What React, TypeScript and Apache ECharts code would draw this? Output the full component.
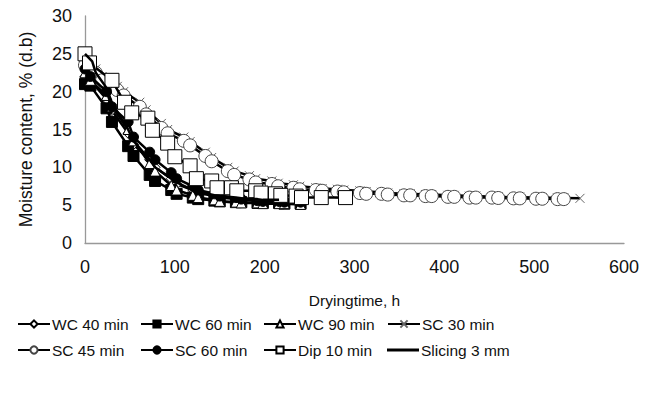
import React, { useEffect, useRef } from "react";
import * as echarts from "echarts";

const seriesNames = ["WC 40 min", "WC 60 min", "WC 90 min", "SC 30 min", "SC 45 min", "SC 60 min", "Dip 10 min", "Slicing 3 mm"];

const xTicks = [0, 100, 200, 300, 400, 500, 600];
const yTicks = [0, 5, 10, 15, 20, 25, 30];

const wc40X = [0, 6, 24, 30, 48, 54, 72, 78, 96, 102, 120, 126, 144, 150, 168, 174, 192, 198, 216, 222];
const wc40Y = [22, 21.5, 19, 17.5, 14.5, 13, 11, 10, 8.5, 7.8, 7, 6.6, 6.2, 6, 5.8, 5.7, 5.6, 5.6, 5.5, 5.5];

const wc60X = [0, 6, 24, 30, 48, 54, 72, 78, 96, 102, 120, 126, 144, 150, 168, 174, 192, 198, 216, 222, 240];
const wc60Y = [21, 20.8, 17.8, 16, 12.8, 11.5, 9, 8.2, 7, 6.5, 6, 5.8, 5.6, 5.5, 5.4, 5.4, 5.3, 5.3, 5.3, 5.2, 5.2];

const wc90X = [0, 6, 24, 30, 48, 54, 72, 78, 96, 102, 120, 126, 144, 150, 168, 174, 192, 198, 216, 222, 240];
const wc90Y = [22.5, 21.5, 19.5, 18, 15, 13.5, 10.5, 9.5, 7.6, 7, 6.3, 6, 5.7, 5.5, 5.4, 5.3, 5.3, 5.2, 5.2, 5.2, 5.1];

const scTimes = [0, 5, 12, 19, 36, 43, 61, 68, 85, 92, 110, 117, 134, 141, 159, 166, 183, 190, 208, 215, 232, 239, 257, 264, 281, 288, 306, 313, 330, 337, 355, 362, 379, 386, 404, 411, 428, 435, 453, 460, 477, 484, 502, 509, 526, 533, 551];
const sc30Y = [24, 23.5, 23, 22, 20.7, 20, 18.6, 17.6, 15.8, 15, 14, 13.4, 12, 11.3, 10, 9.5, 8.9, 8.5, 8.2, 7.9, 7.7, 7.5, 7.3, 7.2, 7.1, 7, 6.9, 6.8, 6.7, 6.6, 6.5, 6.5, 6.4, 6.4, 6.3, 6.3, 6.2, 6.2, 6.1, 6.1, 6.05, 6.05, 6, 6, 5.95, 5.95, 5.9];
const sc45X = [0, 5, 12, 19, 36, 43, 61, 68, 85, 92, 110, 117, 134, 141, 159, 166, 183, 190, 208, 215, 232, 239, 257, 264, 281, 288, 306, 313, 330, 337, 355, 362, 379, 386, 404, 411, 428, 435, 453, 460, 477, 484, 502, 509, 526, 533];
const sc45Y = [23.5, 23, 22.5, 21.5, 20.2, 19.5, 18, 17, 15.2, 14.5, 13.5, 12.9, 11.5, 10.8, 9.5, 9, 8.4, 8, 7.8, 7.5, 7.3, 7.1, 7, 6.9, 6.8, 6.7, 6.6, 6.5, 6.5, 6.4, 6.3, 6.3, 6.2, 6.2, 6.1, 6.1, 6, 6, 6, 5.95, 5.9, 5.9, 5.85, 5.85, 5.8, 5.8];

const sc60X = [0, 6, 24, 30, 48, 54, 72, 78, 96, 102, 120, 126, 144, 150, 168, 174, 192, 198, 216, 222, 240];
const sc60Y = [23, 22, 20, 18, 16, 14, 12, 11, 9.3, 8.5, 7.5, 7, 6.5, 6.2, 6, 5.8, 5.6, 5.5, 5.5, 5.4, 5.4];

const dipX = [0, 5, 30, 44, 52, 70, 75, 92, 100, 117, 124, 141, 147, 163, 169, 190, 196, 212, 218, 235, 241, 263, 290];
const dipY = [25, 23.8, 21.5, 18.6, 17.2, 16.5, 14.9, 13.2, 11.4, 10.2, 8.5, 8.2, 7.3, 7.3, 6.9, 6.9, 6.6, 6.5, 6.3, 6.2, 6.0, 6.0, 6.0];

const sliceX = [0, 8, 12, 24, 30, 48, 54, 72, 78, 96, 102, 120, 126, 144, 150, 168, 174, 192, 198, 216];
const sliceY = [25, 24, 22.5, 20.5, 18.5, 15, 13.5, 11, 10, 8.5, 8, 7, 6.8, 6.3, 6.2, 6, 5.9, 5.8, 5.7, 5.7];

const pair = (xs: number[], ys: number[]) => xs.map((x, i) => [x, ys[i]]);

const FONT = "'Liberation Sans', Arial, sans-serif";

export default function App() {
  const ref = useRef<HTMLDivElement>(null);
  useEffect(() => {
    if (!ref.current) return;
    const chart = echarts.init(ref.current, undefined, { renderer: "svg" });
    const line = { color: "#000", width: 2.5 };
    const mk = (name: string, xs: number[], ys: number[], symbol: string, size: number, itemStyle: any, z: number) => ({
      name,
      type: "line",
      data: pair(xs, ys),
      symbol,
      symbolSize: size,
      showSymbol: symbol !== "none",
      lineStyle: line,
      itemStyle,
      z,
      emphasis: { disabled: true },
    });
    const legendBase = {
      orient: "vertical",
      top: 311,
      itemWidth: 32,
      itemHeight: 9,
      itemGap: 10,
      textStyle: { fontFamily: FONT, fontSize: 15.5, color: "#111", padding: [0, 0, 0, -3] },
      selectedMode: false,
    };
    chart.setOption({
      animation: false,
      backgroundColor: "#fff",
      grid: { left: 85, right: 26, top: 16, bottom: 158 },
      xAxis: {
        type: "value",
        min: 0,
        max: 600,
        interval: 100,
        name: "Dryingtime, h",
        nameLocation: "middle",
        nameGap: 49,
        nameTextStyle: { fontFamily: FONT, fontSize: 15.5, color: "#111" },
        axisLine: { lineStyle: { color: "#999", width: 1.3 } },
        axisTick: { show: false },
        splitLine: { show: false },
        axisLabel: { fontFamily: FONT, fontSize: 18, color: "#111", margin: 15, formatter: (v: number) => (xTicks.includes(v) ? String(v) : "") },
      },
      yAxis: {
        type: "value",
        min: 0,
        max: 30,
        interval: 5,
        name: "Moisture content, % (d.b)",
        nameLocation: "middle",
        nameRotate: 90,
        nameGap: 50,
        nameTextStyle: { fontFamily: FONT, fontSize: 17.5, color: "#111" },
        axisLine: { show: true, lineStyle: { color: "#999", width: 1.3 } },
        axisTick: { show: false },
        splitLine: { show: false },
        axisLabel: { fontFamily: FONT, fontSize: 18, color: "#111", margin: 13, formatter: (v: number) => (yTicks.includes(v) ? String(v) : "") },
      },
      legend: [
        { ...legendBase, left: 12, data: [seriesNames[0], seriesNames[4]] },
        { ...legendBase, left: 135, data: [seriesNames[1], seriesNames[5]] },
        { ...legendBase, left: 258, data: [seriesNames[2], seriesNames[6]] },
        { ...legendBase, left: 382, data: [seriesNames[3]] },
        { ...legendBase, left: 382, top: 337, itemHeight: 3, icon: "rect", itemStyle: { color: "#000" }, data: [seriesNames[7]] },
      ],
      series: [
        mk(seriesNames[0], wc40X, wc40Y, "diamond", 10, { color: "#fff", borderColor: "#000", borderWidth: 1 }, 2),
        mk(seriesNames[1], wc60X, wc60Y, "rect", 11, { color: "#000", borderColor: "#000", borderWidth: 1 }, 3),
        mk(seriesNames[2], wc90X, wc90Y, "triangle", 10, { color: "#fff", borderColor: "#000", borderWidth: 1 }, 4),
        mk(seriesNames[3], scTimes, sc30Y, "path://M0,0L10,10M10,0L0,10", 9, { color: "none", borderColor: "#666", borderWidth: 1 }, 5),
        mk(seriesNames[4], sc45X, sc45Y, "circle", 13, { color: "#fff", borderColor: "#444", borderWidth: 1 }, 6),
        mk(seriesNames[5], sc60X, sc60Y, "circle", 10, { color: "#000", borderColor: "#000", borderWidth: 1 }, 7),
        mk(seriesNames[6], dipX, dipY, "rect", 14, { color: "#fff", borderColor: "#000", borderWidth: 1 }, 8),
        mk(seriesNames[7], sliceX, sliceY, "none", 0, { color: "#000" }, 9),
      ],
    });
    return () => chart.dispose();
  }, []);
  return <div ref={ref} style={{ width: 650, height: 401, position: "absolute", left: 0, top: 0 }} />;
}
